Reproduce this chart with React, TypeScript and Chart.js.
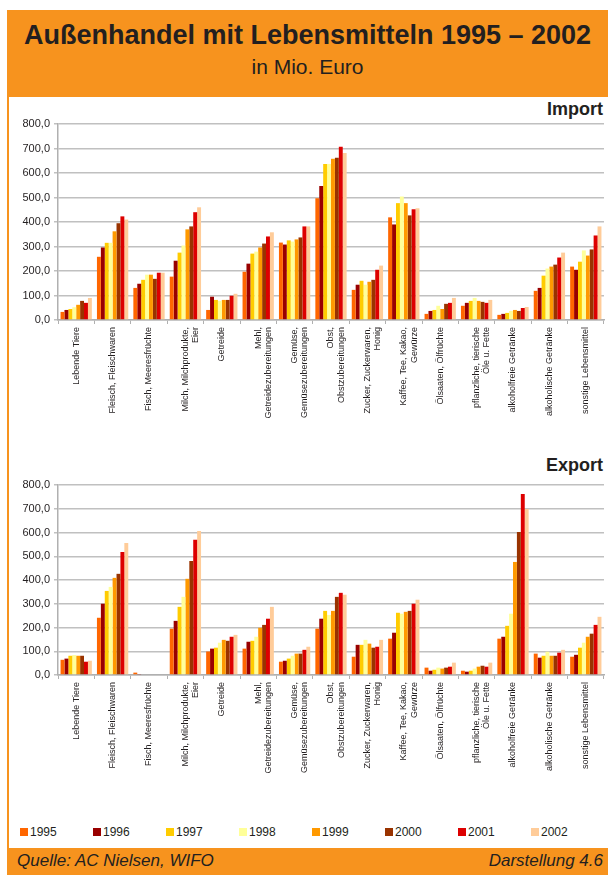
import React, { useEffect, useRef } from "react";
import { Chart, registerables } from "chart.js";

Chart.register(...registerables);

const categories: string[][] = [
  ["Lebende Tiere"],
  ["Fleisch, Fleischwaren"],
  ["Fisch, Meeresfrüchte"],
  ["Milch, Milchprodukte,", "Eier"],
  ["Getreide"],
  ["Mehl,", "Getreidezubereitungen"],
  ["Gemüse,", "Gemüsezubereitungen"],
  ["Obst,", "Obstzubereitungen"],
  ["Zucker, Zuckerwaren,", "Honig"],
  ["Kaffee, Tee, Kakao,", "Gewürze"],
  ["Ölsaaten, Ölfrüchte"],
  ["pflanzliche, tierische", "Öle u. Fette"],
  ["alkoholfreie Getränke"],
  ["alkoholische Getränke"],
  ["sonstige Lebensmittel"],
];

const years = ["1995", "1996", "1997", "1998", "1999", "2000", "2001", "2002"];
const yearColors = ["#FF6600", "#990000", "#FFCC00", "#FFFF99", "#FF9900", "#993300", "#DD0000", "#FFCC99"];

// Import values per category, one entry per year 1995..2002
const importLebendeTiere = [33, 41, 45, 52, 62, 78, 70, 90];
const importFleisch = [258, 296, 315, 315, 362, 395, 423, 410];
const importFisch = [131, 148, 164, 185, 185, 168, 193, 193];
const importMilch = [177, 242, 275, 304, 370, 382, 440, 460];
const importGetreide = [41, 95, 82, 78, 82, 82, 99, 107];
const importMehl = [197, 230, 271, 279, 296, 312, 341, 358];
const importGemuese = [316, 308, 325, 320, 329, 337, 382, 382];
const importObst = [497, 547, 637, 637, 658, 662, 707, 682];
const importZucker = [123, 144, 160, 144, 156, 164, 205, 222];
const importKaffee = [419, 390, 477, 504, 477, 427, 452, 456];
const importOelsaaten = [25, 37, 41, 58, 45, 66, 70, 90];
const importFette = [58, 70, 78, 90, 78, 74, 70, 82];
const importAlkoholfrei = [21, 25, 29, 37, 41, 37, 49, 53];
const importAlkoholisch = [119, 131, 181, 210, 218, 226, 255, 275];
const importSonstige = [218, 205, 238, 284, 263, 288, 345, 382];

// Export values per category, one entry per year 1995..2002
const exportLebendeTiere = [64, 69, 81, 84, 81, 81, 56, 60];
const exportFleisch = [241, 300, 354, 371, 409, 426, 518, 556];
const exportFisch = [10, 4, 0, 0, 0, 0, 0, 0];
const exportMilch = [195, 228, 287, 329, 405, 480, 569, 606];
const exportGetreide = [99, 111, 115, 136, 148, 144, 161, 169];
const exportMehl = [111, 140, 144, 161, 199, 211, 237, 287];
const exportGemuese = [56, 60, 69, 81, 90, 90, 106, 119];
const exportObst = [195, 237, 270, 253, 270, 329, 346, 338];
const exportZucker = [77, 127, 127, 148, 132, 115, 119, 148];
const exportKaffee = [153, 178, 262, 258, 266, 270, 300, 317];
const exportOelsaaten = [31, 18, 22, 31, 27, 31, 35, 52];
const exportFette = [18, 14, 18, 27, 35, 39, 35, 52];
const exportAlkoholfrei = [153, 161, 207, 258, 476, 602, 762, 699];
const exportAlkoholisch = [90, 73, 81, 98, 81, 81, 94, 106];
const exportSonstige = [77, 85, 115, 136, 161, 174, 211, 245];

const importRows = [
  importLebendeTiere, importFleisch, importFisch, importMilch, importGetreide,
  importMehl, importGemuese, importObst, importZucker, importKaffee,
  importOelsaaten, importFette, importAlkoholfrei, importAlkoholisch, importSonstige,
];
const exportRows = [
  exportLebendeTiere, exportFleisch, exportFisch, exportMilch, exportGetreide,
  exportMehl, exportGemuese, exportObst, exportZucker, exportKaffee,
  exportOelsaaten, exportFette, exportAlkoholfrei, exportAlkoholisch, exportSonstige,
];

const yTicks = [0, 100, 200, 300, 400, 500, 600, 700, 800];

const ORANGE = "#F7931E";
const TEXT = "#231F20";
const FONT = "'Liberation Sans', Arial, sans-serif";

function BarChart({ rows, xHeight, height }: { rows: number[][]; xHeight: number; height: number }) {
  const ref = useRef<HTMLCanvasElement>(null);
  useEffect(() => {
    if (!ref.current) return;
    const chart = new Chart(ref.current, {
      type: "bar",
      data: {
        labels: categories,
        datasets: years.map((y, i) => ({
          label: y,
          data: rows.map((r) => r[i]),
          backgroundColor: yearColors[i],
          borderWidth: 0,
          categoryPercentage: 0.86,
          barPercentage: 1.0,
        })),
      },
      options: {
        animation: false,
        responsive: false,
        maintainAspectRatio: false,
        layout: { padding: { top: 8, right: 4, left: 0, bottom: 0 } },
        plugins: { legend: { display: false }, tooltip: { enabled: false } },
        scales: {
          x: {
            offset: true,
            grid: {
              offset: true,
              drawOnChartArea: false,
              drawTicks: true,
              tickLength: 4,
              color: "#B0B0B0",
              lineWidth: 1,
            },
            border: { color: "#B0B0B0", width: 1.5 },
            ticks: {
              autoSkip: false,
              minRotation: 90,
              maxRotation: 90,
              padding: 3,
              color: TEXT,
              font: { family: FONT, size: 9, lineHeight: 1.15 },
            },
            afterFit: (s: any) => {
              s.height = xHeight;
              s.paddingLeft = 0;
              s.paddingRight = 0;
            },
          },
          y: {
            min: 0,
            max: 800,
            afterBuildTicks: (s: any) => {
              s.ticks = yTicks.map((v) => ({ value: v }));
            },
            grid: {
              color: "#C0C0C0",
              lineWidth: 1.5,
              drawTicks: true,
              tickLength: 4,
            },
            border: { color: "#B0B0B0", width: 1.5 },
            ticks: {
              padding: 4,
              color: TEXT,
              font: { family: FONT, size: 11 },
              callback: (v: any) => Number(v).toFixed(1).replace(".", ","),
            },
            afterFit: (s: any) => {
              s.width = 49;
              s.paddingTop = 0;
              s.paddingBottom = 0;
            },
          },
        },
      },
    });
    return () => chart.destroy();
  }, [rows, xHeight, height]);
  return <canvas ref={ref} width={599} height={height} style={{ display: "block", width: 599, height }} />;
}

export default function App() {
  return (
    <div style={{ position: "absolute", left: 0, top: 0, width: 608, height: 875, background: "#fff", fontFamily: FONT, color: TEXT, overflow: "hidden" }}>
      <div style={{ position: "absolute", left: 7, top: 10, width: 601, height: 87, background: ORANGE }} />
      <div style={{ position: "absolute", left: 7, top: 20, width: 601, textAlign: "center", fontSize: 27, fontWeight: "bold" }}>
        Außenhandel mit Lebensmitteln 1995 – 2002
      </div>
      <div style={{ position: "absolute", left: 7, top: 55, width: 601, textAlign: "center", fontSize: 21 }}>
        in Mio. Euro
      </div>
      <div style={{ position: "absolute", left: 7, top: 97, width: 2, height: 751, background: ORANGE }} />

      <div style={{ position: "absolute", right: 5, top: 99, fontSize: 18, fontWeight: "bold" }}>Import</div>
      <div style={{ position: "absolute", left: 9, top: 116 }}>
        <BarChart rows={importRows} xHeight={110} height={314} />
      </div>

      <div style={{ position: "absolute", right: 5, top: 455, fontSize: 18, fontWeight: "bold" }}>Export</div>
      <div style={{ position: "absolute", left: 9, top: 477 }}>
        <BarChart rows={exportRows} xHeight={114} height={312} />
      </div>

      {years.map((y, i) => (
        <div key={y} style={{ position: "absolute", left: 20 + i * 73, top: 825, display: "flex", alignItems: "center", fontSize: 12 }}>
          <span style={{ display: "inline-block", width: 8, height: 8, background: yearColors[i], marginRight: 2 }} />
          <span>{y}</span>
        </div>
      ))}

      <div style={{ position: "absolute", left: 7, top: 848, width: 601, height: 27, background: ORANGE }} />
      <div style={{ position: "absolute", left: 17, top: 851, fontSize: 17, fontStyle: "italic" }}>Quelle: AC Nielsen, WIFO</div>
      <div style={{ position: "absolute", right: 5, top: 851, fontSize: 17, fontStyle: "italic" }}>Darstellung 4.6</div>
    </div>
  );
}
